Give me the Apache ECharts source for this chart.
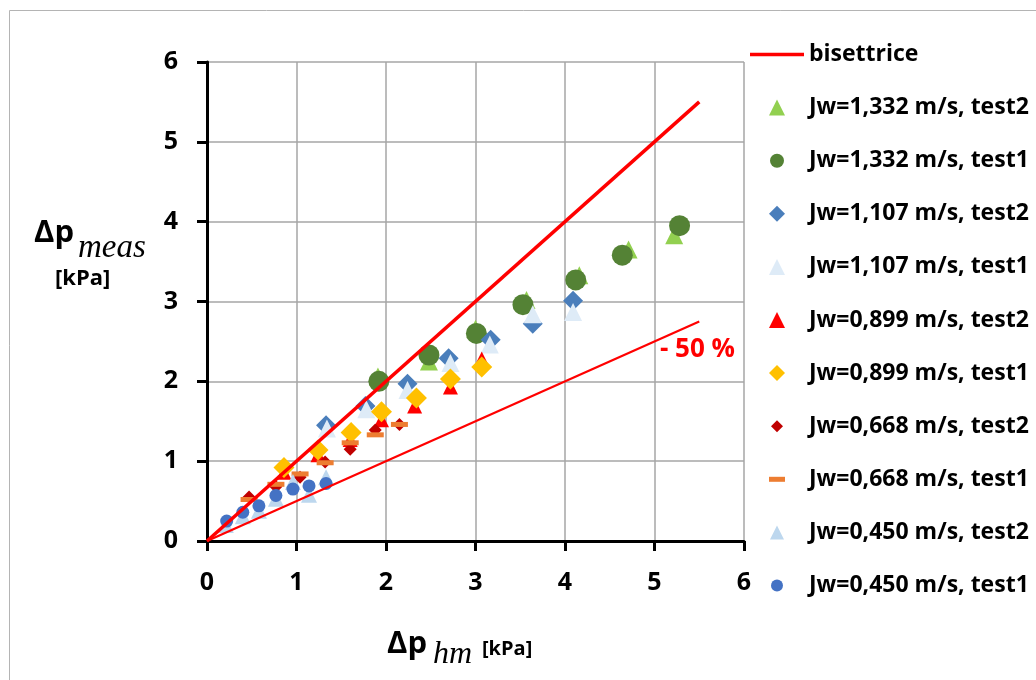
<!DOCTYPE html>
<html>
<head>
<meta charset="utf-8">
<script src="https://cdn.jsdelivr.net/npm/echarts@6/dist/echarts.min.js"></script>
<style>
  html, body { margin: 0; padding: 0; background: #fff; }
  #chart { width: 1036px; height: 680px; }
</style>
</head>
<body>
<div id="chart"></div>
<script>
// Reference lines
const bisettrice = [[0, 0], [5.5, 5.5]];
const minus50 = [[0, 0], [5.5, 2.75]];

// Measured vs homogeneous-model pressure drop [kPa]
const jw1332t2 = [[1.91, 2.06], [2.48, 2.25], [3.0, 2.66], [3.57, 3.02], [4.16, 3.33], [4.71, 3.65], [5.22, 3.83]];
const jw1332t1 = [[1.92, 2.0], [2.48, 2.33], [3.01, 2.6], [3.53, 2.96], [4.12, 3.27], [4.64, 3.58], [5.28, 3.95]];
const jw1107t2 = [[1.33, 1.45], [1.77, 1.69], [2.24, 1.97], [2.7, 2.29], [3.17, 2.52], [3.64, 2.72], [4.09, 3.01]];
const jw1107t1 = [[1.34, 1.41], [1.78, 1.65], [2.24, 1.89], [2.72, 2.23], [3.16, 2.46], [3.64, 2.84], [4.09, 2.87]];
const jw899t2 = [[0.86, 0.86], [1.24, 1.08], [1.6, 1.27], [1.95, 1.52], [2.32, 1.69], [2.72, 1.93], [3.07, 2.28]];
const jw899t1 = [[0.86, 0.92], [1.24, 1.14], [1.61, 1.36], [1.95, 1.62], [2.34, 1.79], [2.72, 2.03], [3.07, 2.18]];
const jw668t2 = [[0.47, 0.55], [0.77, 0.68], [1.04, 0.8], [1.32, 0.99], [1.6, 1.15], [1.88, 1.39], [2.15, 1.46]];
const jw668t1 = [[0.47, 0.52], [0.77, 0.71], [1.04, 0.84], [1.32, 0.98], [1.6, 1.23], [1.88, 1.33], [2.15, 1.46]];
const jw450t2 = [[0.21, 0.2], [0.4, 0.31], [0.58, 0.38], [0.77, 0.53], [0.96, 0.74], [1.14, 0.58], [1.33, 0.8]];
const jw450t1 = [[0.22, 0.25], [0.4, 0.36], [0.58, 0.44], [0.77, 0.57], [0.96, 0.65], [1.14, 0.69], [1.33, 0.72]];

const axisTicks = [0, 1, 2, 3, 4, 5, 6];

const SANS = "'Open Sans', Lato, sans-serif";
const SERIF = "'Liberation Serif', 'DejaVu Serif', serif";

// Legend icons as paths so they keep their aspect inside the 54x16 item box.
// The leading moveTo points only pad the bounding box, which shrinks the visible glyph.
const ICON = {
  line: 'path://M0,0L54,0L54,3.5L0,3.5Z',
  triangle: 'path://M0,-8L8,8L-8,8Z',
  circle: 'path://M-8,-8M8,8M7,0A7,7,0,1,1,-7,0A7,7,0,1,1,7,0Z',
  diamond: 'path://M0,-8L8,0L0,8L-8,0Z',
  smallDiamond: 'path://M-8,-8M8,8M0,-6L6,0L0,6L-6,0Z',
  dash: 'path://M-8,-8M8,8M-8,-2.5L8,-2.5L8,2.5L-8,2.5Z',
  smallCircle: 'path://M-8,-8M8,8M6,0A6,6,0,1,1,-6,0A6,6,0,1,1,6,0Z',
  smallTriangle: 'path://M-8,-8M8,8M0,-7L7,7L-7,7Z'
};

const chart = echarts.init(document.getElementById('chart'), null, { renderer: 'canvas' });

function scatter(name, data, symbol, size, color) {
  return {
    name: name, type: 'scatter', data: data,
    symbol: symbol, symbolSize: size,
    itemStyle: { color: color, opacity: 1 },
    emphasis: { disabled: true }
  };
}

const axisCommon = {
  type: 'value',
  min: axisTicks[0],
  max: axisTicks[axisTicks.length - 1],
  interval: 1,
  axisLine: { show: true, onZero: false, lineStyle: { color: '#000', width: 3 } },
  axisTick: { show: true, inside: false, length: 10, lineStyle: { color: '#000', width: 3 } },
  splitLine: { show: true, lineStyle: { color: '#a6a6a6', width: 1.5 } },
  axisLabel: { color: '#000', fontFamily: SANS, fontWeight: 'bold', fontSize: 25 }
};

const option = {
  backgroundColor: '#fff',
  animation: false,
  grid: { left: 207, right: 292, top: 62, bottom: 139, containLabel: false },
  xAxis: Object.assign({}, axisCommon, { axisLabel: Object.assign({}, axisCommon.axisLabel, { margin: 29 }) }),
  yAxis: Object.assign({}, axisCommon, { axisLabel: Object.assign({}, axisCommon.axisLabel, { margin: 29 }) }),
  legend: {
    orient: 'vertical',
    left: 750,
    top: 43,
    padding: 0,
    itemWidth: 54,
    itemHeight: 16,
    itemGap: 30.1,
    symbolKeepAspect: true,
    selectedMode: false,
    textStyle: { color: '#000', fontFamily: SANS, fontWeight: 'bold', fontSize: 23, lineHeight: 20 },
    data: [
      { name: 'bisettrice', icon: ICON.line },
      { name: 'Jw=1,332 m/s, test2', icon: ICON.triangle },
      { name: 'Jw=1,332 m/s, test1', icon: ICON.circle },
      { name: 'Jw=1,107 m/s, test2', icon: ICON.diamond },
      { name: 'Jw=1,107 m/s, test1', icon: ICON.triangle },
      { name: 'Jw=0,899 m/s, test2', icon: ICON.triangle },
      { name: 'Jw=0,899 m/s, test1', icon: ICON.diamond },
      { name: 'Jw=0,668 m/s, test2', icon: ICON.smallDiamond },
      { name: 'Jw=0,668 m/s, test1', icon: ICON.dash },
      { name: 'Jw=0,450 m/s, test2', icon: ICON.smallTriangle },
      { name: 'Jw=0,450 m/s, test1', icon: ICON.smallCircle }
    ]
  },
  series: [
    {
      name: 'bisettrice', type: 'line', data: bisettrice, symbol: 'none',
      lineStyle: { color: '#ff0000', width: 3.5 }, itemStyle: { color: '#ff0000' },
      emphasis: { disabled: true }
    },
    {
      name: '-50', type: 'line', data: minus50, symbol: 'none',
      lineStyle: { color: '#ff0000', width: 2.2 }, itemStyle: { color: '#ff0000' },
      emphasis: { disabled: true }
    },
    scatter('Jw=1,332 m/s, test2', jw1332t2, 'triangle', 18, '#92d050'),
    scatter('Jw=1,332 m/s, test1', jw1332t1, 'circle', 21, '#548235'),
    scatter('Jw=1,107 m/s, test2', jw1107t2, 'diamond', 20, '#4a7ebb'),
    scatter('Jw=1,107 m/s, test1', jw1107t1, 'triangle', 18, '#deebf7'),
    scatter('Jw=0,899 m/s, test2', jw899t2, 'triangle', 15, '#ff0000'),
    scatter('Jw=0,899 m/s, test1', jw899t1, 'diamond', 21, '#ffc000'),
    scatter('Jw=0,668 m/s, test2', jw668t2, 'diamond', 13, '#c00000'),
    scatter('Jw=0,668 m/s, test1', jw668t1, 'rect', [17, 5], '#ed7d31'),
    scatter('Jw=0,450 m/s, test2', jw450t2, 'triangle', 16, '#bdd7ee'),
    scatter('Jw=0,450 m/s, test1', jw450t1, 'circle', 13, '#4472c4')
  ],
  graphic: [
    {
      type: 'rect', z: -10, silent: true,
      shape: { x: 9.5, y: 10.5, width: 1100, height: 1000 },
      style: { fill: 'none', stroke: '#b4b4b4', lineWidth: 1 }
    },
    // y-axis title
    { type: 'text', left: 34, top: 218, silent: true,
      style: { text: 'Δp', font: "bold 31px " + SANS, fill: '#000' } },
    { type: 'text', left: 78, top: 232, silent: true,
      style: { text: 'meas', font: "italic 33px " + SERIF, fill: '#000' } },
    { type: 'text', left: 55, top: 268, silent: true,
      style: { text: '[kPa]', font: "bold 22px " + SANS, fill: '#000' } },
    // x-axis title
    { type: 'text', left: 387, top: 629, silent: true,
      style: { text: 'Δp', font: "bold 31px " + SANS, fill: '#000' } },
    { type: 'text', left: 433, top: 639, silent: true,
      style: { text: 'hm', font: "italic 32px " + SERIF, fill: '#000' } },
    { type: 'text', left: 482, top: 639, silent: true,
      style: { text: '[kPa]', font: "bold 20px " + SANS, fill: '#000' } },
    // label of the lower reference line
    { type: 'text', left: 660, top: 337, silent: true,
      style: { text: '- 50 %', font: "bold 26px " + SANS, fill: '#ff0000' } }
  ]
};

chart.setOption(option);
</script>
</body>
</html>
